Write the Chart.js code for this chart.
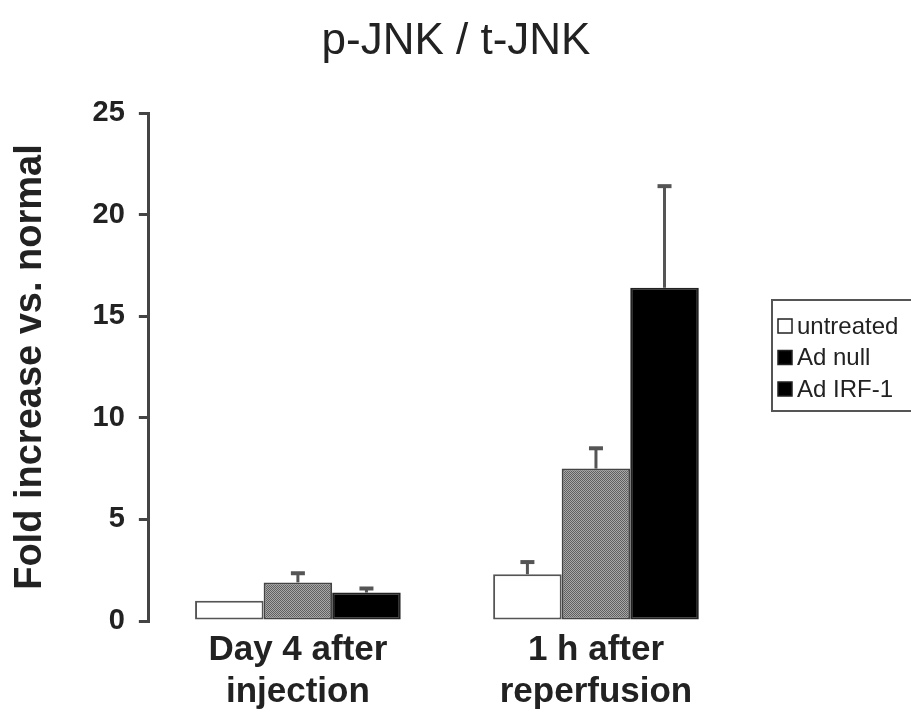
<!DOCTYPE html>
<html>
<head>
<meta charset="utf-8">
<script src="https://cdn.jsdelivr.net/npm/chart.js@4"></script>
<style>
  html, body { margin: 0; padding: 0; background: #fff; }
  #wrap { width: 911px; height: 713px; position: relative; }
</style>
</head>
<body>
<div id="wrap"><canvas id="chart" width="911" height="713"></canvas></div>
<script>
const categories = [["Day 4 after", "injection"], ["1 h after", "reperfusion"]];
const seriesNames = ["untreated", "Ad null", "Ad IRF-1"];
const untreated = [1.0, 2.3];
const adNull = [1.9, 7.5];
const adIRF1 = [1.4, 16.4];
const untreatedErr = [0, 0.6];
const adNullErr = [0.45, 1.0];
const adIRF1Err = [0.2, 5.0];
const yTicks = [0, 5, 10, 15, 20, 25];

const FONT = "'Liberation Sans', Arial, sans-serif";

// halftone grey used by the Ad null bars
function dotPattern() {
    const c = document.createElement("canvas");
    c.width = 2;
    c.height = 2;
    const g = c.getContext("2d");
    g.fillStyle = "#a8a8a8";
    g.fillRect(0, 0, 2, 2);
    g.fillStyle = "#606060";
    g.fillRect(0, 0, 1, 1);
    g.fillRect(1, 1, 1, 1);
    return g.createPattern(c, "repeat");
}

const errorBars = {
    id: "errorBars",
    afterDatasetsDraw(chart) {
        const { ctx, scales: { y } } = chart;
        ctx.save();
        ctx.strokeStyle = "#555";
        chart.data.datasets.forEach((ds, i) => {
            const meta = chart.getDatasetMeta(i);
            meta.data.forEach((bar, j) => {
                const err = ds.errors[j];
                if (!err) return;
                const top = y.getPixelForValue(ds.data[j] + err);
                ctx.lineWidth = 3;
                ctx.beginPath();
                ctx.moveTo(bar.x, bar.y);
                ctx.lineTo(bar.x, top);
                ctx.stroke();
                ctx.lineWidth = 4;
                ctx.beginPath();
                ctx.moveTo(bar.x - 7, top);
                ctx.lineTo(bar.x + 7, top);
                ctx.stroke();
            });
        });
        ctx.restore();
    },
};

// title and the boxed legend sit outside the plot area
const decor = {
    id: "decor",
    afterDraw(chart) {
        const { ctx } = chart;
        const swatches = ["#fff", "#000", "#000"];
        ctx.save();
        ctx.fillStyle = "#222";
        ctx.font = "44px " + FONT;
        ctx.textAlign = "center";
        ctx.textBaseline = "middle";
        ctx.fillText("p-JNK / t-JNK", 456, 42);

        ctx.textAlign = "left";
        ctx.strokeStyle = "#555";
        ctx.lineWidth = 2;
        ctx.strokeRect(772, 300, 160, 111);
        ctx.font = "24px " + FONT;
        seriesNames.forEach((name, i) => {
            const yy = 326 + i * 31.5;
            ctx.fillStyle = swatches[i];
            ctx.fillRect(778, yy - 7, 14, 14);
            ctx.strokeStyle = "#222";
            ctx.lineWidth = 1.5;
            ctx.strokeRect(778, yy - 7, 14, 14);
            ctx.fillStyle = "#222";
            ctx.fillText(name, 797, yy + 1);
        });
        ctx.restore();
    },
};

new Chart(document.getElementById("chart"), {
    type: "bar",
    data: {
        labels: categories,
        datasets: [
            { label: seriesNames[0], data: untreated, errors: untreatedErr,
              backgroundColor: "#fff", borderColor: "#555", borderWidth: 2, borderSkipped: false },
            { label: seriesNames[1], data: adNull, errors: adNullErr,
              backgroundColor: dotPattern(), borderColor: "#444", borderWidth: 2, borderSkipped: false },
            { label: seriesNames[2], data: adIRF1, errors: adIRF1Err,
              backgroundColor: "#000", borderColor: "#222", borderWidth: 2, borderSkipped: false },
        ],
    },
    options: {
        responsive: false,
        animation: false,
        layout: { padding: { left: 8, right: 166, top: 113, bottom: 0 } },
        datasets: { bar: { barPercentage: 1.0, categoryPercentage: 0.69 } },
        plugins: {
            legend: { display: false },
            tooltip: { enabled: false },
            title: { display: false },
        },
        scales: {
            x: {
                border: { display: false },
                grid: { display: false },
                ticks: {
                    color: "#222",
                    font: { family: FONT, size: 35, weight: "bold", lineHeight: 1.2 },
                    padding: 0,
                    maxRotation: 0,
                },
            },
            y: {
                min: 0,
                max: 25,
                afterBuildTicks: (axis) => { axis.ticks = yTicks.map((v) => ({ value: v })); },
                border: { display: true, color: "#444", width: 3 },
                grid: { drawOnChartArea: false, drawTicks: true, tickLength: 10, color: "#444", lineWidth: 3 },
                ticks: {
                    color: "#222",
                    font: { family: FONT, size: 29, weight: "bold" },
                    padding: 14,
                },
                title: {
                    display: true,
                    text: "Fold increase vs. normal",
                    color: "#222",
                    font: { family: FONT, size: 38, weight: "bold" },
                    padding: { top: 0, bottom: 25 },
                },
            },
        },
    },
    plugins: [errorBars, decor],
});
</script>
</body>
</html>
